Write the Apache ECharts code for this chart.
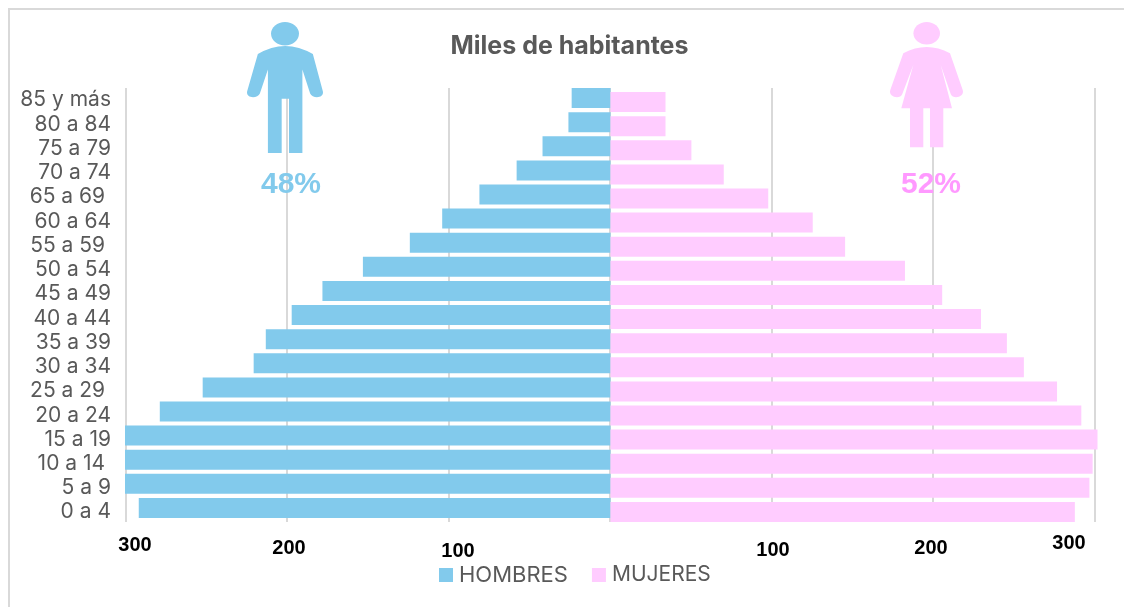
<!DOCTYPE html>
<html>
<head>
<meta charset="utf-8">
<style>html,body{margin:0;padding:0;background:#fff}#chart{width:1124px;height:607px}</style>
<script src="https://cdn.jsdelivr.net/npm/echarts@6/dist/echarts.min.js"></script>
</head>
<body>
<div id="chart"></div>
<script>
// Age groups, oldest first (some source labels carry a trailing space)
const ageGroups = ['85 y más','80 a 84','75 a 79','70 a 74','65 a 69 ','60 a 64','55 a 59 ','50 a 54','45 a 49','40 a 44','35 a 39','30 a 34','25 a 29 ','20 a 24','15 a 19','10 a 14 ','5 a 9','0 a 4'];
// Population in thousands
const hombres = [24,26,42,58,81,104,124,153,178,197,213,220.5,252,278.5,300,300,300,291.5];
const mujeres = [34,34,50,70,97.5,125,145,182,205,229,245,255.5,276,291,301,298,296,287];
const axisTicks = [300,200,100,100,200,300];
const shareHombres = '48%';
const shareMujeres = '52%';

const BLUE = '#82CAEC', PINK = '#FFCCFF', PINK_TEXT = '#FF99FF', GRAY = '#595959', LINE = '#D9D9D9';

const manBody = 'M258,56.7 Q285,41 312.7,56.7 L322.7,93 C324,100 312,100 310,95 L302.3,71.7 L302.3,152.7 L289,152.7 L289,100 L281.7,100 L281.7,152.7 L268,152.7 L268,71.7 L260,95 C258,100 246,100 247.3,93 Z';
const womanBody = 'M903.3,53.3 Q926.7,41 950,53.3 L962.7,90 C965,97 953,100 950.7,94 L940.7,65 L952,108.3 L943.3,108.3 L943.3,147.3 L930,147.3 L930,108.3 L923.3,108.3 L923.3,147.3 L910,147.3 L910,108.3 L901.3,108.3 L913.3,65 L902.3,94 C900,100 888,97 890.3,90 Z';

// Free-floating tick captions sit on their own baselines along the bottom edge
const tickSpots = [[135,545],[289,548],[458,551],[773,550],[931,548],[1069,543]];
const tickText = axisTicks.map((t,i)=>({
  type:'text', x:tickSpots[i][0], y:tickSpots[i][1],
  style:{text:String(t), fill:'#000', font:'bold 20px "Liberation Sans"', align:'center', verticalAlign:'middle'}
}));

// Pictogram silhouettes, drawn in page pixels above the bars
function pictogram(){
  const solid = (d, box, fill) => ({type:'path', shape:Object.assign({pathData:d, layout:'cover'}, box), style:{fill}});
  return {type:'group', children:[
    solid(manBody, {x:247,y:46,width:76,height:107}, BLUE),
    solid(womanBody, {x:890,y:47,width:73,height:100.3}, PINK)
  ]};
}

const chart = echarts.init(document.getElementById('chart'), null, {renderer:'canvas'});
chart.setOption({
  animation:false,
  backgroundColor:'#fff',
  title:{text:'Miles de habitantes', left:564.5, top:29, textAlign:'center',
    textStyle:{fontFamily:'Inter', fontWeight:'bold', fontSize:25, color:GRAY}},
  legend:{left:439, top:564, padding:0, itemWidth:14, itemHeight:14, itemGap:24, icon:'rect',
    data:['HOMBRES',{name:'MUJERES', textStyle:{fontSize:21}}],
    textStyle:{fontFamily:'Inter', fontSize:22, color:GRAY, padding:[0,0,0,1]}},
  grid:[
    {left:125.5, right:1124-1094.5, top:88, bottom:607-522},   // gridlines across both halves
    {left:125, width:485.5, top:86, height:434},               // men's bars
    {left:610.5, width:487, top:90, height:434},               // women's bars
    {left:125, width:485.5, top:88, height:436.3}              // age labels
  ],
  xAxis:[
    {gridIndex:0, type:'value', min:-300, max:300, interval:100, axisLabel:{show:false}, axisLine:{show:false}, axisTick:{show:false},
      splitLine:{show:true, lineStyle:{color:LINE, width:2}}},
    {gridIndex:1, type:'value', inverse:true, min:0, max:300, axisLabel:{show:false}, axisLine:{show:false}, axisTick:{show:false}, splitLine:{show:false}},
    {gridIndex:2, type:'value', min:0, max:301, axisLabel:{show:false}, axisLine:{show:false}, axisTick:{show:false}, splitLine:{show:false}},
    {gridIndex:3, type:'value', show:false, min:0, max:300, splitLine:{show:false}}
  ],
  yAxis:[
    {gridIndex:0, type:'category', show:false, data:ageGroups, inverse:true},
    {gridIndex:1, type:'category', show:false, data:ageGroups, inverse:true},
    {gridIndex:2, type:'category', show:false, data:ageGroups, inverse:true},
    {gridIndex:3, type:'category', position:'left', data:ageGroups, inverse:true,
      axisLine:{show:false}, axisTick:{show:false},
      axisLabel:{interval:0, margin:14, fontFamily:'Inter', fontSize:21, color:GRAY}}
  ],
  series:[
    {name:'HOMBRES', type:'bar', xAxisIndex:1, yAxisIndex:1, data:hombres, barWidth:20, itemStyle:{color:BLUE}, z:3},
    {name:'MUJERES', type:'bar', xAxisIndex:2, yAxisIndex:2, data:mujeres, barWidth:20, itemStyle:{color:PINK}, z:3},
    {name:'pictogramas', type:'custom', coordinateSystem:'none', data:[0], renderItem:pictogram, silent:true, z:5}
  ],
  graphic:[
    {type:'rect', z:1, shape:{x:8,y:8,width:1116,height:2}, style:{fill:LINE}},
    {type:'rect', z:1, shape:{x:8,y:8,width:2,height:599}, style:{fill:LINE}},
    {type:'ellipse', z:10, shape:{cx:285,cy:33.7,rx:14,ry:11.7}, style:{fill:BLUE}},
    {type:'ellipse', z:10, shape:{cx:926.7,cy:33.3,rx:13.3,ry:11.3}, style:{fill:PINK}},
    {type:'text', z:10, x:291, y:185, style:{text:shareHombres, fill:BLUE, font:'bold 30px "Liberation Sans"', align:'center', verticalAlign:'middle'}},
    {type:'text', z:10, x:931, y:185, style:{text:shareMujeres, fill:PINK_TEXT, font:'bold 30px "Liberation Sans"', align:'center', verticalAlign:'middle'}},
    ...tickText
  ]
});
</script>
</body>
</html>
